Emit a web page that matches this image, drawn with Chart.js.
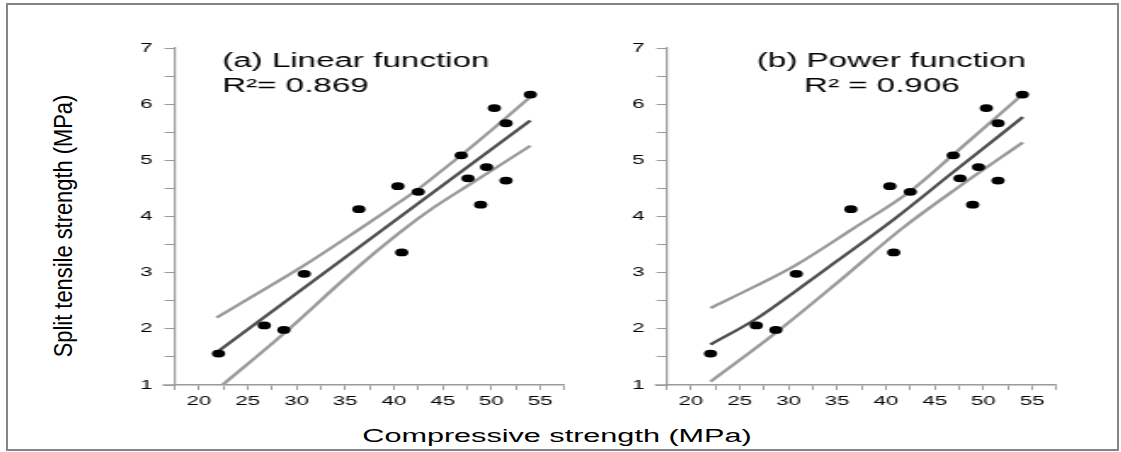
<!DOCTYPE html>
<html>
<head>
<meta charset="utf-8">
<script src="https://cdn.jsdelivr.net/npm/chart.js@4/dist/chart.umd.min.js"></script>
<style>
  html, body { margin: 0; padding: 0; background: #fff; }
  body { width: 1121px; height: 452px; position: relative; overflow: hidden; font-family: "Liberation Sans", Arial, sans-serif; }
  .frame { position: absolute; left: 6px; top: 3px; width: 1113px; height: 448px; box-sizing: border-box; border: 2px solid #858585; }
  canvas { position: absolute; top: 0; height: 420px; }
  .xtitle { position: absolute; left: 557px; top: 427px; font-size: 18px; line-height: 18px; white-space: nowrap; color: #000;
            transform: translate(-50%, 0) scaleX(1.7); }
  .ytitle { position: absolute; left: 63px; top: 226px; font-size: 25px; line-height: 25px; white-space: nowrap; color: #000;
            transform: translate(-50%, -50%) rotate(-90deg) scaleX(0.875); }
</style>
</head>
<body>
<div class="frame"></div>
<canvas id="panelA" width="270" height="420" style="left:116px;width:459px;height:420px"></canvas>
<canvas id="panelB" width="270" height="420" style="left:608px;width:459px;height:420px"></canvas>
<div class="xtitle">Compressive strength (MPa)</div>
<div class="ytitle">Split tensile strength (MPa)</div>
<script>
// measured specimens (same in both panels)
const compressive = [22.0, 26.7, 28.7, 30.8, 36.4, 40.4, 40.8, 42.5, 46.9, 47.6, 48.9, 49.5, 50.3, 51.5, 51.5, 54.0];
const splitTensile = [1.56, 2.06, 1.98, 2.98, 4.13, 4.54, 3.36, 4.44, 5.09, 4.68, 4.21, 4.88, 5.93, 5.66, 4.64, 6.17];

// (a) linear fit and its bands
const linFitX = [21.9, 54.0];
const linFitY = [1.59, 5.71];
const linUpX = [21.8, 26.0, 30.7, 36.5, 39.5, 42.5, 45.0, 47.1, 50.5, 54.0];
const linUpY = [2.20, 2.63, 3.12, 3.78, 4.13, 4.49, 4.83, 5.12, 5.61, 6.13];
const linLoX = [22.4, 28.6, 35.0, 38.0, 41.0, 44.0, 47.5, 54.0];
const linLoY = [1.00, 1.90, 2.90, 3.35, 3.77, 4.15, 4.54, 5.26];

// (b) power fit and its bands
const powFitX = [22.0, 26.7, 30.8, 35.0, 40.9, 46.9, 54.05];
const powFitY = [1.72, 2.18, 2.68, 3.21, 3.96, 4.79, 5.77];
const powUpX = [22.0, 26.5, 30.8, 36.6, 42.5, 46.9, 54.05];
const powUpY = [2.37, 2.75, 3.14, 3.78, 4.45, 5.10, 6.18];
const powLoX = [22.0, 28.7, 35.0, 41.6, 47.5, 54.05];
const powLoY = [1.06, 1.93, 2.82, 3.78, 4.53, 5.32];

const xTicks = [20, 25, 30, 35, 40, 45, 50, 55];
const yTicks = [1, 2, 3, 4, 5, 6, 7];

const AXIS = '#9a9a9a';
const BAND = '#9b9b9b';
const FIT = '#505050';
const FONT = '"Liberation Sans", Arial, sans-serif';

const pts = (xs, ys) => xs.map((x, i) => ({ x: x, y: ys[i] }));

const panelText = {
  id: 'panelText',
  afterDraw(chart, args, opts) {
    const ctx = chart.ctx;
    const { left, bottom } = chart.chartArea;
    ctx.save();
    // x axis runs a little past the y axis
    ctx.strokeStyle = AXIS;
    ctx.lineWidth = 1.5;
    ctx.beginPath();
    ctx.moveTo(left - 7, bottom);
    ctx.lineTo(left, bottom);
    ctx.stroke();
    ctx.fillStyle = '#000';
    ctx.font = '19.5px ' + FONT;
    ctx.textBaseline = 'alphabetic';
    ctx.fillText(opts.title, opts.tx, 67);
    ctx.fillText(opts.r2, opts.rx, 92);
    ctx.restore();
  }
};

function lineSet(data, color) {
  return {
    data: data, showLine: true, borderColor: color, borderWidth: 2.4,
    pointRadius: 0, cubicInterpolationMode: 'monotone', fill: false
  };
}

function makePanel(id, title, r2, tx, rx, fit, up, lo) {
  new Chart(document.getElementById(id), {
    type: 'scatter',
    data: {
      datasets: [
        { data: pts(compressive, splitTensile), backgroundColor: '#000', borderWidth: 0, pointRadius: 3.9 },
        lineSet(fit, FIT),
        lineSet(up, BAND),
        lineSet(lo, BAND)
      ]
    },
    options: {
      responsive: false,
      animation: false,
      layout: { padding: { top: 48, right: 6.2, bottom: 0, left: 0 } },
      plugins: {
        legend: { display: false },
        tooltip: { enabled: false },
        panelText: { title: title, r2: r2, tx: tx, rx: rx }
      },
      scales: {
        x: {
          type: 'linear', min: 17.5, max: 57.5,
          afterFit: s => { s.height = 35; },
          border: { display: true, color: AXIS, width: 1.5 },
          grid: { drawOnChartArea: false, drawTicks: true, tickLength: 5, color: AXIS, lineWidth: 1 },
          ticks: {
            stepSize: 2.5, autoSkip: false, maxRotation: 0, padding: 4, color: '#000',
            font: { family: FONT, size: 13 },
            callback: v => (xTicks.includes(v) ? String(v) : '')
          }
        },
        y: {
          type: 'linear', min: 1, max: 7,
          afterFit: s => { s.width = 34.5; },
          border: { display: true, color: AXIS, width: 1.2 },
          grid: { drawOnChartArea: false, drawTicks: true, tickLength: 6, color: AXIS, lineWidth: 1 },
          ticks: {
            stepSize: 0.5, autoSkip: false, padding: 7, color: '#000',
            font: { family: FONT, size: 13 },
            callback: v => (yTicks.includes(v) ? String(v) : '')
          }
        }
      }
    },
    plugins: [panelText]
  });
}

makePanel('panelA', '(a) Linear function', 'R\u00b2= 0.869', 62.4, 62.4,
  pts(linFitX, linFitY), pts(linUpX, linUpY), pts(linLoX, linLoY));
makePanel('panelB', '(b) Power function', 'R\u00b2 = 0.906', 87.6, 115.3,
  pts(powFitX, powFitY), pts(powUpX, powUpY), pts(powLoX, powLoY));
</script>
</body>
</html>
